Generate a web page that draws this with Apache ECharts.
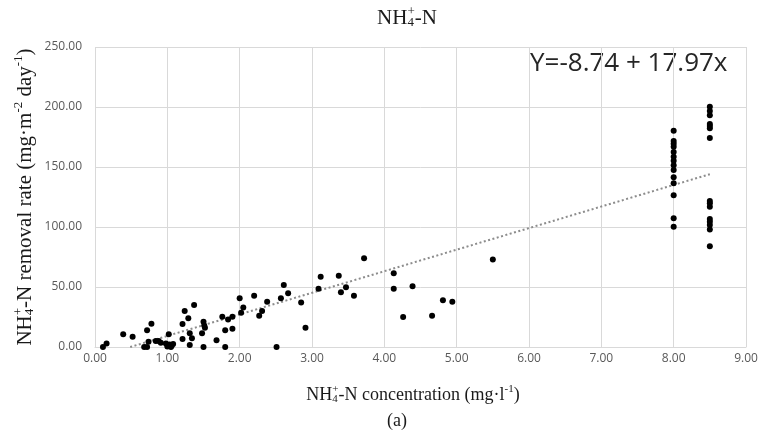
<!DOCTYPE html>
<html>
<head>
<meta charset="utf-8">
<script src="https://cdn.jsdelivr.net/npm/echarts@6/dist/echarts.min.js"></script>
<style>
  html, body { margin: 0; padding: 0; background: #fff; }
  #chart { width: 765px; height: 436px; }
</style>
</head>
<body>
<div id="chart"></div>
<script>
// measured concentration (mg/l) and removal rate (mg/m2/day)
const xVals = [
  0.11, 0.16, 0.39, 0.52, 0.68, 0.72, 0.74, 0.72, 0.78, 0.84, 0.88, 0.91,
  0.98, 1.00, 1.02, 1.03, 1.05, 1.06, 1.08, 1.21, 1.24, 1.29, 1.37, 1.21,
  1.31, 1.34, 1.31, 1.50, 1.51, 1.52, 1.48, 1.50, 1.68, 1.76, 1.80, 1.84,
  1.90, 1.90, 1.80, 2.00, 2.05, 2.02, 2.20, 2.27, 2.31, 2.38, 2.51, 2.57,
  2.61, 2.67, 2.85, 2.91, 3.09, 3.12, 3.37, 3.40, 3.47, 3.58, 3.72, 4.13,
  4.13, 4.39, 4.26, 4.66, 4.81, 4.94, 5.50,
  8, 8, 8, 8, 8, 8, 8, 8, 8, 8, 8, 8, 8, 8,
  8.5, 8.5, 8.5, 8.5, 8.5, 8.5, 8.5, 8.5, 8.5, 8.5, 8.5, 8.5, 8.5, 8.5, 8.5
];
const yVals = [
  0, 3, 10.6, 8.6, 0, 0, 4.4, 14, 19.4, 5, 5, 3.6,
  3, 0.5, 10.6, 2, 0, 1, 2.5, 19.2, 30, 23.9, 35, 6.7,
  11.4, 7.2, 1.7, 21, 18, 16, 11.4, 0, 5.6, 25.3, 14, 23,
  25.3, 15.3, 0, 40.6, 33, 28.6, 42.8, 26, 30, 37.8, 0, 40.6,
  51.7, 44.7, 37, 16.1, 48.6, 58.6, 59.4, 45.6, 49.7, 42.8, 73.9, 61.4,
  48.6, 50.6, 25, 26.1, 38.9, 37.8, 73,
  180.3, 171.7, 169.4, 166.9, 162.5, 158.6, 155.3, 151.4, 147.5, 141.4, 136.4, 126.4, 107.2, 100.3,
  200.3, 196.7, 193.1, 185.8, 184.2, 182.2, 174.2, 121.7, 119.7, 116.9, 106.7, 104.4, 101.7, 98, 83.9
];
const xTicks = [0, 1, 2, 3, 4, 5, 6, 7, 8, 9];
const yTicks = [0, 50, 100, 150, 200, 250];
const intercept = -8.74;
const slope = 17.97;

const points = xVals.map((x, i) => [x, yVals[i]]);
const xMax = Math.max(...xVals);
const xStart = -intercept / slope; // trend hits y = 0 here
const trend = [[xStart, intercept + slope * xStart], [xMax, intercept + slope * xMax]];

// pieces of serif labels with stacked + over 4 and superscripts
const SERIF = '"Liberation Serif", "Times New Roman", serif';
const ctx = document.createElement('canvas').getContext('2d');
const tw = (t, size) => { ctx.font = size + 'px ' + SERIF; return ctx.measureText(t).width; };

function formula(pieces, size) {
  const kids = [];
  let x = 0;
  const small = Math.round(size * 0.6);
  const txt = (t, px, py, fs) => ({
    type: 'text', x: px, y: py,
    style: { text: t, fontSize: fs, fontFamily: SERIF, fill: '#1a1a1a', textVerticalAlign: 'middle' }
  });
  pieces.forEach(p => {
    if (p.stack) {
      kids.push(txt(p.stack[0], x, -size * 0.3, small));
      kids.push(txt(p.stack[1], x, size * 0.22, small));
      x += Math.max(tw(p.stack[0], small), tw(p.stack[1], small));
    } else if (p.sup) {
      kids.push(txt(p.sup, x, -size * 0.3, small));
      x += tw(p.sup, small);
    } else {
      kids.push(txt(p.t, x, 0, size));
      x += tw(p.t, size);
    }
  });
  kids.forEach(k => { k.x -= x / 2; });
  return kids;
}

const chart = echarts.init(document.getElementById('chart'));

const tickFont = { color: '#595959', fontSize: 12, fontFamily: '"Open Sans", sans-serif' };

chart.setOption({
  backgroundColor: '#fff',
  animation: false,
  grid: { left: 95, right: 19, top: 47, bottom: 89 },
  xAxis: {
    type: 'value',
    min: xTicks[0],
    max: xTicks[xTicks.length - 1],
    interval: 1,
    axisLine: { lineStyle: { color: '#d9d9d9' } },
    axisTick: { show: false },
    axisLabel: { ...tickFont, margin: 6, formatter: v => v.toFixed(2) },
    splitLine: { lineStyle: { color: '#d9d9d9' } }
  },
  yAxis: {
    type: 'value',
    min: yTicks[0],
    max: yTicks[yTicks.length - 1],
    interval: 50,
    axisLine: { show: false },
    axisTick: { show: false },
    axisLabel: { ...tickFont, margin: 13, formatter: v => v.toFixed(2) },
    splitLine: { lineStyle: { color: '#d9d9d9' } }
  },
  series: [
    {
      type: 'line',
      data: trend,
      showSymbol: false,
      silent: true,
      lineStyle: { color: '#8c8c8c', width: 2, type: [2, 2.5] },
      z: 1
    },
    {
      type: 'scatter',
      data: points,
      symbolSize: 6,
      itemStyle: { color: '#000', opacity: 1 },
      z: 2
    }
  ],
  graphic: [
    {
      type: 'group', x: 407, y: 18,
      children: formula([{ t: 'NH' }, { stack: ['+', '4'] }, { t: '-N' }], 21)
    },
    {
      type: 'group', x: 413, y: 395,
      children: formula([{ t: 'NH' }, { stack: ['+', '4'] }, { t: '-N concentration (mg·l' }, { sup: '-1' }, { t: ')' }], 18)
    },
    {
      type: 'text', x: 397, y: 421,
      style: { text: '(a)', fontSize: 18, fontFamily: SERIF, fill: '#1a1a1a', textAlign: 'center', textVerticalAlign: 'middle' }
    },
    {
      type: 'group', x: 25, y: 197, rotation: Math.PI / 2,
      children: formula([{ t: 'NH' }, { stack: ['+', '4'] }, { t: '-N removal rate (mg·m' }, { sup: '-2' }, { t: ' day' }, { sup: '-1' }, { t: ')' }], 21)
    },
    {
      type: 'text', x: 530, y: 64,
      style: { text: 'Y=-8.74 + 17.97x', fontSize: 26, fontFamily: '"Open Sans", sans-serif', fill: '#262626', textVerticalAlign: 'middle' }
    }
  ]
});
</script>
</body>
</html>
